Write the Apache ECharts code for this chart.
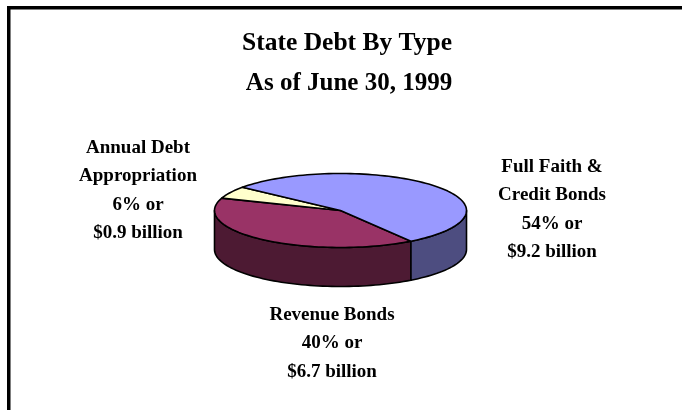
<!DOCTYPE html>
<html>
<head>
<meta charset="utf-8">
<style>html,body{margin:0;padding:0;background:#fff}#chart{width:682px;height:410px}</style>
<script src="https://cdn.jsdelivr.net/npm/echarts@6/dist/echarts.min.js"></script>
</head>
<body>
<div id="chart"></div>
<script>
// State debt by type, in billions of dollars
const categories = ['Revenue Bonds', 'Annual Debt Appropriation', 'Full Faith & Credit Bonds'];
const billions = [6.7, 0.9, 9.2];
const percents = [40, 6, 54];
const labelLines = [
  ['Revenue Bonds'],
  ['Annual Debt', 'Appropriation'],
  ['Full Faith &', 'Credit Bonds']
];
const topColors = ['#993366', '#FFFFCC', '#9999FF'];
const wallColors = ['#4D1A33', '#808066', '#4D4D80'];
const labelCenters = [[332, 315], [138, 148], [552, 167]];

// Tilted disc geometry
const CX = 340.5, CY = 210.5, RX = 126, RY = 37, DEPTH = 39;
const START_DEG = 56;
const LINE_STEP = 28.5;
const total = billions.reduce((a, b) => a + b, 0);
const FONT = '"Liberation Serif", serif';

const rim = (deg, drop) => {
  const r = deg * Math.PI / 180;
  return [CX + RX * Math.cos(r), CY + RY * Math.sin(r) + drop];
};
const arc = (from, to, drop) => {
  const pts = [], n = Math.max(2, Math.ceil(Math.abs(to - from) / 2));
  for (let i = 0; i <= n; i++) pts.push(rim(from + (to - from) * i / n, drop));
  return pts;
};
const lineStyle = { stroke: '#000', lineWidth: 1.6, lineJoin: 'round' };

const renderSlice = (params, api) => {
  const i = params.dataIndex;
  const before = billions.slice(0, i).reduce((a, b) => a + b, 0);
  const a0 = START_DEG + before / total * 360;
  const a1 = a0 + api.value(0) / total * 360;
  const children = [];

  // Visible wall: the parts of the slice on the front half of the disc (0-180 deg, repeated each turn)
  [[0, 180], [360, 540]].forEach(([lo, hi]) => {
    const w0 = Math.max(a0, lo), w1 = Math.min(a1, hi);
    if (w1 > w0) {
      children.push({
        type: 'polygon',
        shape: { points: arc(w0, w1, 0).concat(arc(w1, w0, DEPTH)) },
        style: Object.assign({ fill: wallColors[i] }, lineStyle)
      });
    }
  });
  children.push({
    type: 'polygon',
    shape: { points: [[CX, CY]].concat(arc(a0, a1, 0)) },
    style: Object.assign({ fill: topColors[i] }, lineStyle)
  });

  // Multi-line label from the category, percent and dollar values
  const lines = labelLines[i].concat([percents[i] + '% or', '$' + billions[i].toFixed(1) + ' billion']);
  lines.forEach((t, k) => {
    children.push({
      type: 'text',
      style: {
        x: labelCenters[i][0], y: labelCenters[i][1] + k * LINE_STEP,
        text: t, fill: '#000', align: 'center', verticalAlign: 'middle',
        font: 'bold 19px ' + FONT
      }
    });
  });
  return { type: 'group', children };
};

const chart = echarts.init(document.getElementById('chart'), null, { renderer: 'canvas' });
chart.setOption({
  animation: false,
  backgroundColor: '#fff',
  title: [
    { text: 'State Debt By Type', left: 342, top: 38, textAlign: 'center', textVerticalAlign: 'middle',
      textStyle: { fontFamily: FONT, fontWeight: 'bold', fontSize: 25.5, color: '#000' } },
    { text: 'As of June 30, 1999', left: 344, top: 79, textAlign: 'center', textVerticalAlign: 'middle',
      textStyle: { fontFamily: FONT, fontWeight: 'bold', fontSize: 25, color: '#000' } }
  ],
  graphic: [
    { type: 'rect', shape: { x: 7, y: 6, width: 675, height: 3.5 }, style: { fill: '#000' } },
    { type: 'rect', shape: { x: 7, y: 6, width: 3.5, height: 404 }, style: { fill: '#000' } }
  ],
  series: [{
    type: 'custom',
    coordinateSystem: 'none',
    renderItem: renderSlice,
    data: billions.map((v, i) => ({ name: categories[i], value: [v] }))
  }]
});
</script>
</body>
</html>
